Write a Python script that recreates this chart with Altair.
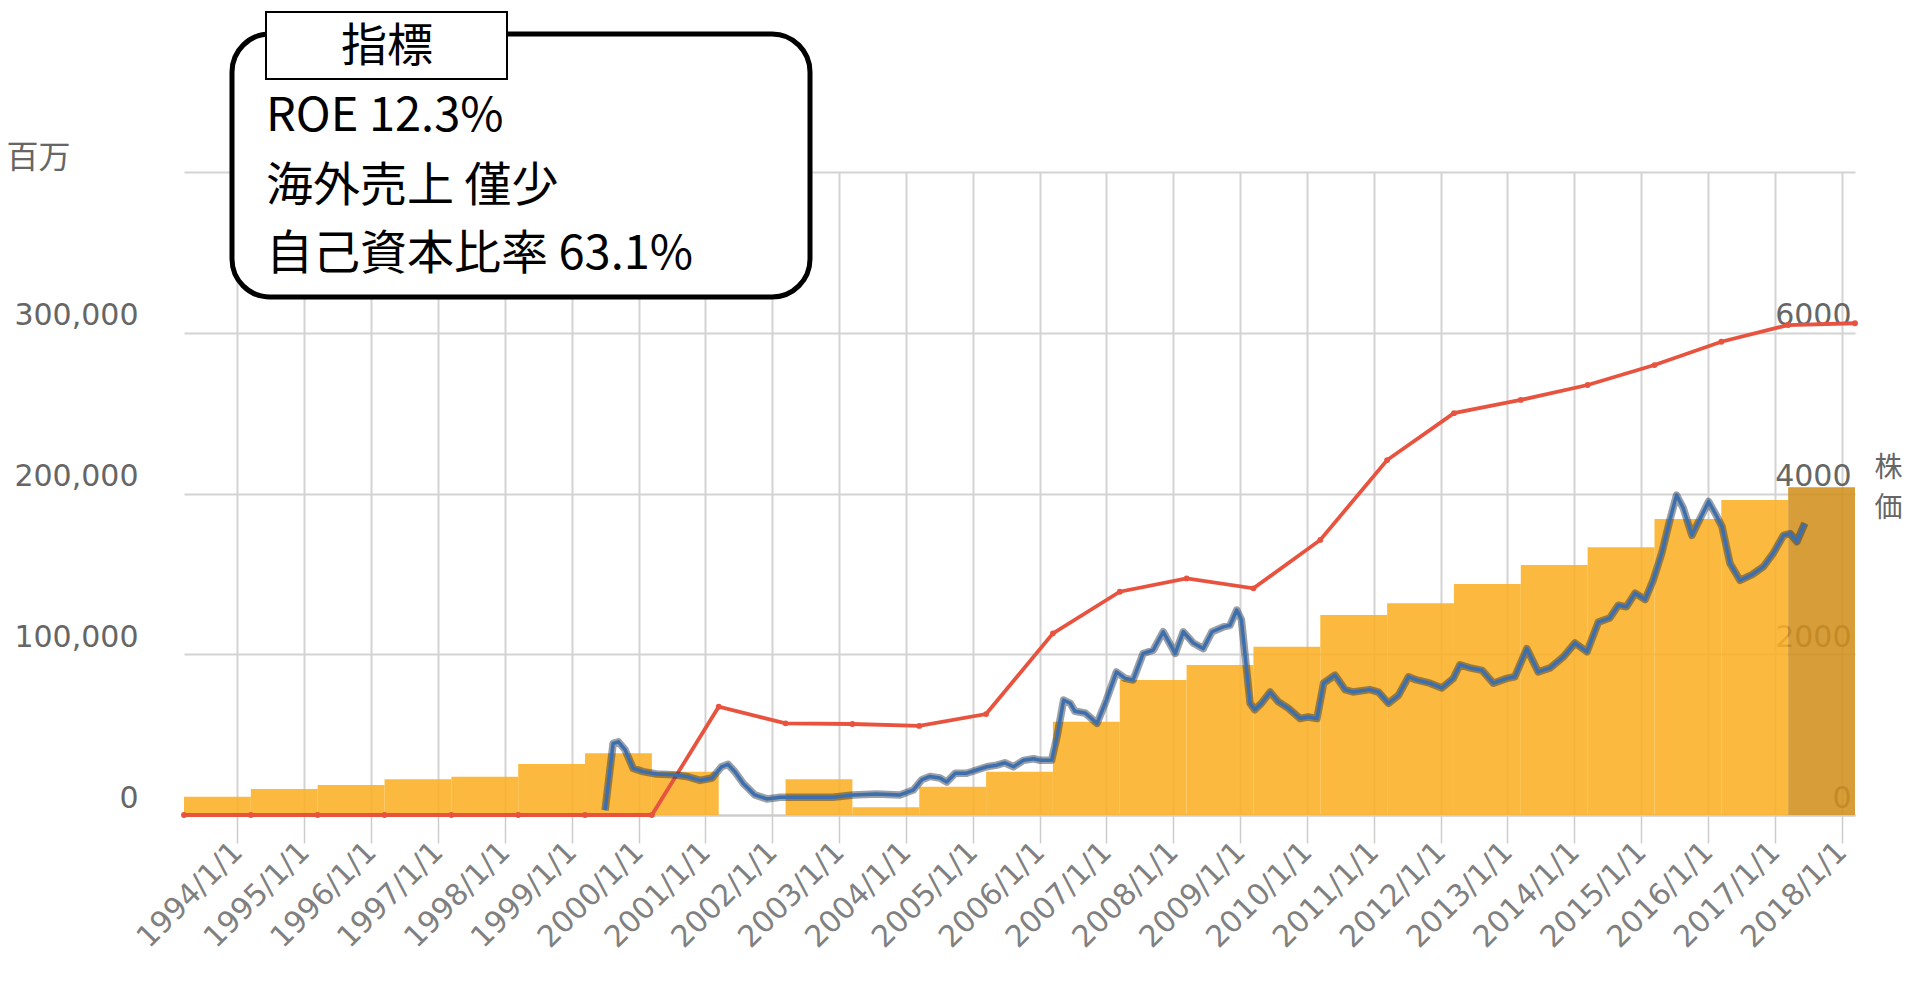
import altair as alt
import pandas as pd

# ---------------- data ----------------
FY_OFFSET = 0.2  # fiscal years close in March

# red line (left axis, 百万) at each fiscal year end
red_fy = list(range(1993, 2019))
red_values = [0, 0, 0, 0, 0, 0, 0, 0,
              67400, 57000, 56600, 55400, 62800, 113000, 138900, 147200,
              141000, 171100, 220800, 250000, 258200, 267500, 279900,
              294400, 304800, 305900]

# orange bars (left axis, 百万), one per fiscal year
bar_start_fy = list(range(1993, 2018))
bar_values = [11400, 16200, 18700, 22200, 23800, 31700, 38400, 26900, None,
              22200, 4800, 17600, 26900, 58000, 84000, 93300, 104700, 124400,
              131700, 143700, 155500, 166500, 184100, 196000, 203900]
bar_kind = ["実績"] * 24 + ["予想"]

# blue line (right axis, 株価)
blue_year = [1999.50, 1999.62, 1999.70, 1999.80, 1999.92, 2000.07, 2000.27, 2000.52, 2000.72, 2000.92,
             2001.10, 2001.24, 2001.34, 2001.44, 2001.57, 2001.74, 2001.92, 2002.12, 2002.42, 2002.91,
             2003.21, 2003.56, 2003.91, 2004.11, 2004.24, 2004.36, 2004.51, 2004.61, 2004.74, 2004.91,
             2005.06, 2005.21, 2005.36, 2005.48, 2005.61, 2005.76, 2005.91, 2006.01, 2006.18, 2006.26,
             2006.36, 2006.46, 2006.53, 2006.68, 2006.86, 2007.00, 2007.15, 2007.28, 2007.40, 2007.55,
             2007.70, 2007.85, 2008.03, 2008.15, 2008.30, 2008.45, 2008.58, 2008.75, 2008.85, 2008.95,
             2009.02, 2009.15, 2009.22, 2009.32, 2009.45, 2009.57, 2009.72, 2009.90, 2010.02, 2010.15,
             2010.25, 2010.42, 2010.57, 2010.69, 2010.94, 2011.07, 2011.22, 2011.37, 2011.52, 2011.64,
             2011.84, 2012.02, 2012.19, 2012.29, 2012.44, 2012.62, 2012.79, 2012.99, 2013.11, 2013.29,
             2013.46, 2013.64, 2013.84, 2014.01, 2014.19, 2014.36, 2014.53, 2014.66, 2014.78, 2014.91,
             2015.06, 2015.18, 2015.31, 2015.43, 2015.53, 2015.63, 2015.76, 2015.86, 2016.01, 2016.11,
             2016.21, 2016.33, 2016.48, 2016.66, 2016.83, 2016.98, 2017.13, 2017.23, 2017.33, 2017.45]
blue_price = [60, 890, 910, 810, 580, 540, 510, 500, 480, 430,
              460, 600, 630, 540, 390, 250, 200, 220, 220, 220,
              250, 260, 250, 310, 440, 480, 460, 410, 520, 520,
              560, 600, 620, 650, 600, 680, 700, 680, 680, 970,
              1430, 1390, 1290, 1270, 1140, 1430, 1780, 1700, 1680, 2010,
              2050, 2280, 2010, 2280, 2140, 2070, 2280, 2340, 2360, 2550,
              2430, 1390, 1310, 1390, 1530, 1410, 1330, 1200, 1220, 1200,
              1640, 1740, 1560, 1530, 1560, 1530, 1390, 1490, 1720, 1680,
              1640, 1580, 1700, 1870, 1830, 1800, 1640, 1700, 1720, 2070,
              1780, 1830, 1970, 2140, 2030, 2400, 2450, 2610, 2590, 2760,
              2680, 2920, 3260, 3670, 3980, 3820, 3480, 3650, 3900, 3750,
              3590, 3130, 2920, 2990, 3090, 3260, 3480, 3500, 3400, 3630]

x_ticks = list(range(1994, 2019))
left_ticks = [0, 100000, 200000, 300000, 400000]
right_ticks = [0, 2000, 4000, 6000]

box_title = "指標"
box_lines = ["ROE 12.3%", "海外売上 僅少", "自己資本比率 63.1%"]

# ---------------- tables ----------------
bars_df = pd.DataFrame({
    "x0": [y + FY_OFFSET for y in bar_start_fy],
    "x1": [y + 1 + FY_OFFSET for y in bar_start_fy],
    "value": bar_values,
    "kind": bar_kind,
}).dropna()
red_df = pd.DataFrame({"x": [y + FY_OFFSET for y in red_fy], "value": red_values})
blue_df = pd.DataFrame({"year": blue_year, "price": blue_price})
one = pd.DataFrame({"a": [0]})

# ---------------- scales / axes ----------------
W, H = 1671, 643
FONT = "DejaVu Sans"
JP = "Noto Sans CJK JP"
GRID = "#d3d3d3"

xs = alt.Scale(domain=[1993.2, 2018.2], nice=False, zero=False)
xa = alt.Axis(values=x_ticks, labelExpr="datum.value + '/1/1'", grid=True,
              gridColor=GRID, gridWidth=2, ticks=True, tickSize=28,
              tickColor="#cccccc", tickWidth=1.5, domain=True,
              domainColor="#cccccc", domainWidth=2, labelAngle=-45,
              labelAlign="right", labelBaseline="middle", labelPadding=4,
              labelFont=FONT, labelFontSize=30, labelColor="#808080",
              labelOverlap=False, labelFlush=False, title=None)

ys_left = alt.Scale(domain=[0, 400000], nice=False)
ya_left = alt.Axis(orient="left", values=left_ticks,
                   labelExpr="datum.value == 400000 ? '' : format(datum.value, ',')",
                   grid=True, gridColor=GRID, gridWidth=2, domain=False,
                   ticks=False, labelPadding=46, labelFont=FONT,
                   labelFontSize=30, labelColor="#666666",
                   labelBaseline="alphabetic", labelOffset=-8,
                   title="百万", titleAngle=0, titleX=-178, titleY=-30,
                   titleAlign="left", titleBaseline="top", titleFont=JP,
                   titleFontSize=32, titleFontWeight="normal",
                   titleColor="#666666")

ys_right = alt.Scale(domain=[0, 8000], nice=False)
ya_right = alt.Axis(orient="right", values=right_ticks, format="d",
                    grid=False, domain=False, ticks=False, labelAlign="right",
                    labelPadding=-4, labelFont=FONT, labelFontSize=30,
                    labelColor="#666666", labelBaseline="alphabetic",
                    labelOffset=-8, title=["株", "価"], titleAngle=0,
                    titleX=19, titleY=282, titleAlign="left",
                    titleBaseline="top", titleFont=JP, titleFontSize=28,
                    titleFontWeight="normal", titleColor="#666666",
                    titleLineHeight=40)

# ---------------- layers ----------------
bars = alt.Chart(bars_df).mark_rect(opacity=0.88).encode(
    x=alt.X("x0:Q", scale=xs, axis=xa),
    x2="x1:Q",
    y=alt.Y("value:Q", scale=ys_left, axis=ya_left),
    y2=alt.datum(0),
    color=alt.Color("kind:N", scale=alt.Scale(domain=["実績", "予想"],
                    range=["#FAB024", "#D08F1E"]), legend=None),
)
red_line = alt.Chart(red_df).mark_line(color="#E8533F", strokeWidth=3.8).encode(
    x=alt.X("x:Q", scale=xs, axis=xa),
    y=alt.Y("value:Q", scale=ys_left, axis=ya_left),
)
red_pts = alt.Chart(red_df).mark_circle(color="#E8533F", size=34, opacity=1).encode(
    x=alt.X("x:Q", scale=xs, axis=xa),
    y=alt.Y("value:Q", scale=ys_left, axis=ya_left),
)
left = alt.layer(bars, red_line, red_pts)

blue_halo = alt.Chart(blue_df).mark_line(color="#1f2d3d", strokeWidth=7.5,
                                         opacity=0.45, strokeJoin="round").encode(
    x=alt.X("year:Q", scale=xs, axis=xa),
    y=alt.Y("price:Q", scale=ys_right, axis=ya_right),
)
blue_core = alt.Chart(blue_df).mark_line(color="#3D6FAE", strokeWidth=3.5,
                                         strokeJoin="round").encode(
    x=alt.X("year:Q", scale=xs, axis=xa),
    y=alt.Y("price:Q", scale=ys_right, axis=ya_right),
)
right = alt.layer(blue_halo, blue_core)

# annotation box (pixel positions relative to the plot area)
box = alt.Chart(one).mark_rect(fill="white", stroke="black", strokeWidth=5,
                               cornerRadius=38).encode(
    x=alt.value(48), x2=alt.value(626), y=alt.value(-138), y2=alt.value(125))
tab = alt.Chart(one).mark_rect(fill="white", stroke="black", strokeWidth=2).encode(
    x=alt.value(82), x2=alt.value(323), y=alt.value(-160), y2=alt.value(-93))
tab_text = alt.Chart(one).mark_text(text=box_title, font=JP, fontSize=46,
                                    align="center", baseline="middle",
                                    color="black").encode(
    x=alt.value(203), y=alt.value(-125))
line_y = [-55, 15, 83]
line_layers = [
    alt.Chart(one).mark_text(text=t, font=JP, fontSize=47, align="left",
                             baseline="middle", color="black").encode(
        x=alt.value(82), y=alt.value(yy))
    for t, yy in zip(box_lines, line_y)
]

chart = alt.layer(left, right, box, tab, tab_text, *line_layers).resolve_scale(
    y="independent"
).properties(
    width=W, height=H,
    autosize=alt.AutoSizeParams(type="none"),
    padding={"left": 176, "top": 164, "right": 52, "bottom": 158},
    background="white",
).configure_view(stroke=None)

chart.save("out.html", embed_options={"renderer": "svg", "actions": False})
